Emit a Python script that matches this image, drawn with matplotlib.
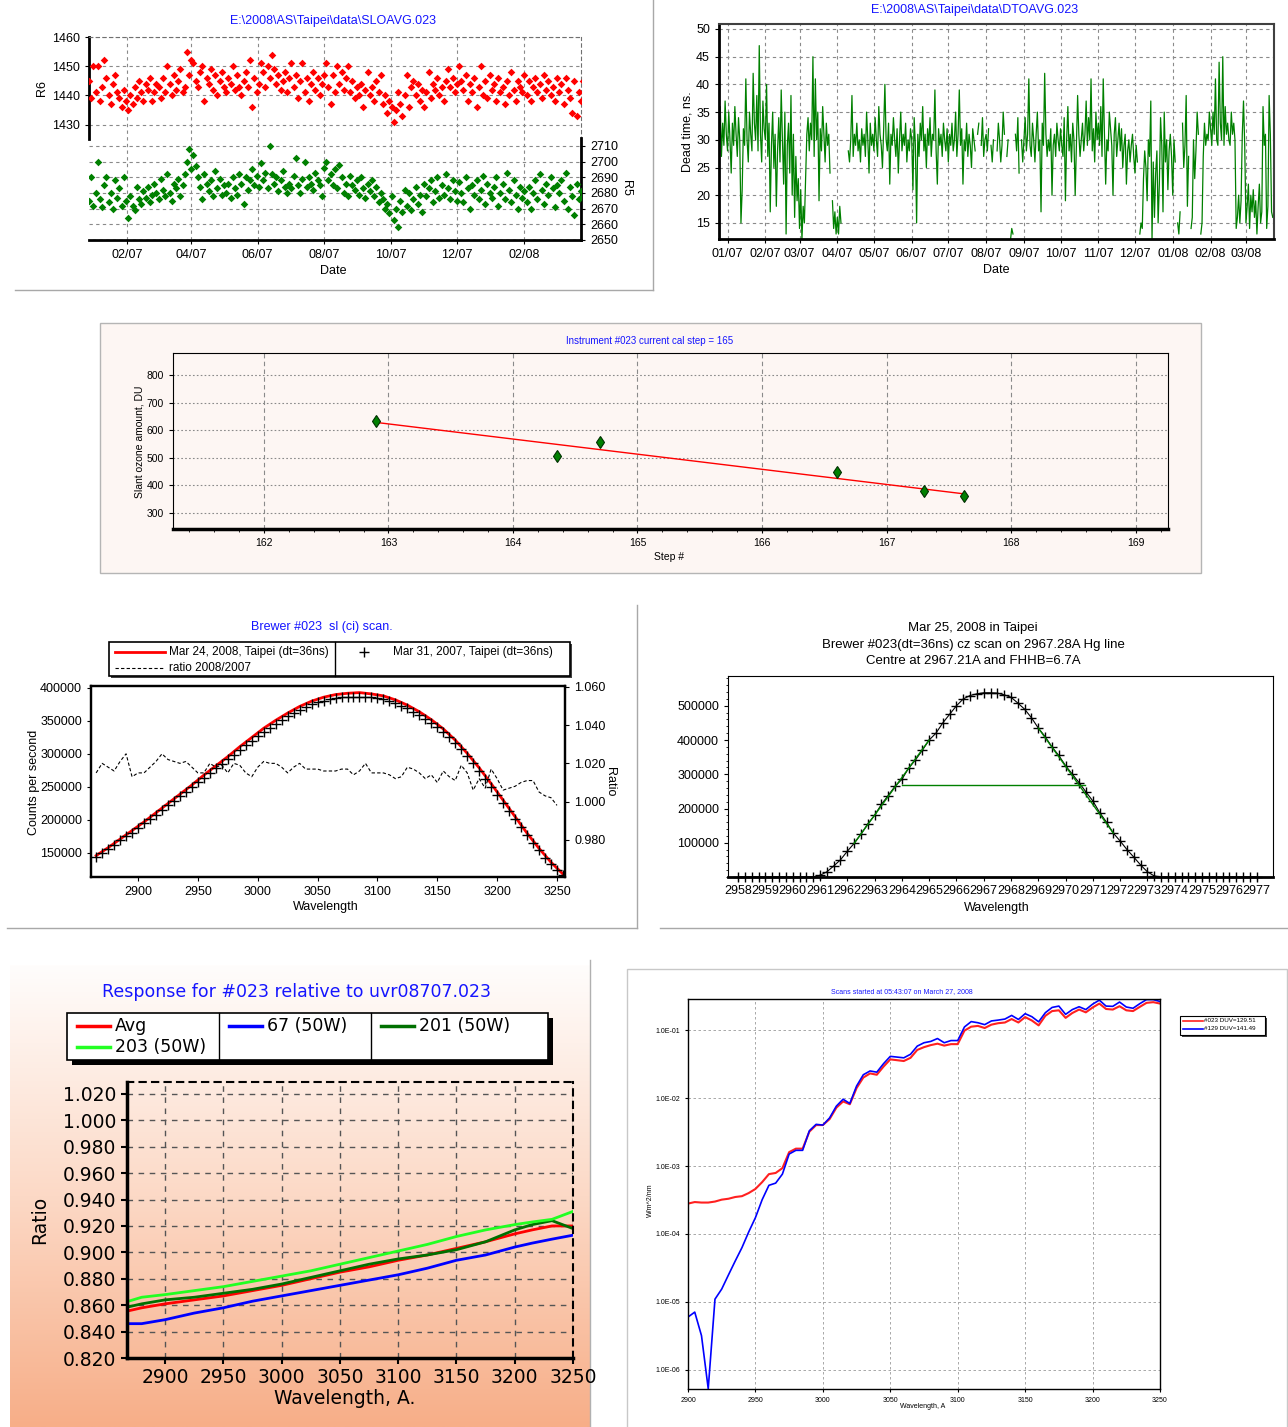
import datetime as dt
import numpy as np
import matplotlib
matplotlib.use("Agg")
import matplotlib.pyplot as plt
import matplotlib.dates as mdates
from matplotlib.colors import LinearSegmentedColormap
from matplotlib.patches import Rectangle
from matplotlib.ticker import AutoMinorLocator, FormatStrFormatter

plt.rcParams['font.family'] = ['Liberation Sans', 'DejaVu Sans']

# ---------------- data ----------------
# SL ratios R6 / R5, one reading every second day
sl_start = dt.date(2006, 12, 28)
r6 = [1445, 1439, 1450,
      1441, 1450, 1438, 1443, 1452, 1446, 1440, 1437, 1444, 1447, 1441, 1439, 1436, 1442, 1438,
      1435, 1440, 1437, 1443, 1439, 1445, 1441, 1438, 1444, 1442, 1446, 1438, 1441, 1444,
      1443, 1439, 1446, 1441, 1450, 1444, 1440, 1447, 1442, 1445, 1449, 1441, 1443, 1455, 1447, 1452,
      1451, 1445, 1443, 1448, 1450, 1438, 1446, 1444, 1449, 1442, 1447, 1440, 1445, 1448, 1443,
      1441, 1446, 1444, 1450, 1442, 1447, 1443, 1440, 1445, 1448, 1443, 1452, 1436, 1446, 1441, 1444,
      1451, 1448, 1443, 1450, 1446, 1454, 1449, 1444, 1447, 1442, 1445, 1448, 1441, 1446, 1451,
      1443, 1447, 1439, 1445, 1451, 1441, 1446, 1438, 1444, 1448, 1442, 1446, 1440, 1444, 1447,
      1451, 1443, 1437, 1447, 1441, 1450, 1444, 1448, 1442, 1446, 1450, 1441, 1445, 1439, 1443, 1440,
      1444, 1436, 1442, 1448, 1440, 1443, 1438, 1445, 1441, 1447, 1437, 1440, 1434, 1438, 1436,
      1431, 1435, 1441, 1437, 1433, 1440, 1447, 1436, 1443, 1445, 1440, 1444, 1438, 1442, 1436,
      1441, 1448, 1439, 1444, 1442, 1446, 1440, 1443, 1438, 1445, 1449, 1443, 1446, 1441, 1444,
      1450, 1445, 1442, 1447, 1438, 1444, 1441, 1446, 1436, 1443, 1450, 1440, 1445, 1439, 1447, 1442,
      1444, 1438, 1446, 1441, 1443, 1437, 1445, 1440, 1448, 1442, 1438, 1445, 1443, 1441, 1447,
      1440, 1445, 1438, 1443, 1446, 1441, 1444, 1439, 1447, 1442, 1445, 1440, 1443, 1438, 1446,
      1441, 1444, 1437, 1446, 1442, 1439, 1434, 1445, 1433, 1441, 1438, 1445]
r5 = [2675, 2690, 2672,
      2680, 2700, 2676, 2671, 2685, 2690, 2674, 2680, 2670, 2688, 2677, 2683, 2672, 2690, 2675,
      2664, 2678, 2672, 2669, 2684, 2676, 2673, 2681, 2677, 2684, 2674, 2679, 2686, 2680,
      2676, 2689, 2682, 2678, 2692, 2680, 2675, 2686, 2683, 2689, 2678, 2685, 2692, 2700, 2708, 2695,
      2704, 2697, 2690, 2684, 2676, 2692, 2686, 2681, 2688, 2678, 2694, 2683, 2689, 2679, 2685,
      2680, 2686, 2677, 2690, 2683, 2679, 2692, 2686, 2673, 2690, 2682, 2688, 2695, 2685, 2691, 2684,
      2699, 2688, 2693, 2683, 2710, 2692, 2686, 2690, 2681, 2688, 2694, 2684, 2680, 2686, 2683,
      2691, 2702, 2685, 2680, 2689, 2700, 2684, 2690, 2686, 2682, 2693, 2688, 2685, 2678, 2696,
      2700, 2688, 2692, 2685, 2695, 2683, 2698, 2690, 2680, 2686, 2678, 2691, 2685, 2682, 2688, 2679,
      2690, 2683, 2677, 2686, 2681, 2688, 2678, 2684, 2674, 2680, 2676, 2670, 2673, 2667, 2678,
      2663, 2670, 2658, 2675, 2668, 2682, 2672, 2680, 2669, 2676, 2684, 2673, 2679, 2668, 2686,
      2678, 2683, 2688, 2674, 2681, 2690, 2677, 2685, 2679, 2692, 2683, 2676, 2688, 2681, 2675,
      2687, 2680, 2674, 2690, 2683, 2670, 2685, 2679, 2688, 2676, 2682, 2691, 2673, 2686, 2680, 2677,
      2684, 2690, 2672, 2680, 2686, 2676, 2693, 2682, 2674, 2688, 2679, 2670, 2684, 2677, 2681,
      2674, 2684, 2670, 2680, 2688, 2676, 2692, 2682, 2673, 2686, 2679, 2690, 2683, 2671, 2685,
      2680, 2688, 2675, 2693, 2670, 2684, 2678, 2666, 2686, 2676, 2681, 2678]

# daily dead time (ns), None = no data
dt_start = dt.date(2006, 12, 25)
N = None
dead_time = [30, 36, 27, 33, 29, 37, 31,
             28, 35, 30, 24, 33, 29, 36, 31, 27, 34, 30, 15, 21, 32, 29, 41, 30, 26, 35, 31, 28, 42, 33, 30, 38, 28, 47, 31, 26, 37, 32,
             30, 40, 27, 33, 17, 29, 35, 25, 31, 18, 28, 34, 26, 39, 30, 22, 35, 13, 29, 33, 24, 38, 20, 31, 16, 27, 19, 23,
             14, 21, 12, 18, 15, 23, 31, 34, 28, 33, 30, 45, 27, 41, 30, 35, 19, 32, 28, 36, 31, 26, 33, 29, 31, 24, N, 19, 14, 17, 13,
             16, 13, 18, 15, N, N, N, 24, N, 28, 26, 30, 38, 27, 31, 29, 33, 28, 30, 26, 32, 29, 31, 27, 35, 30, 24, 33, 29, 31,
             28, 34, 30, 27, 36, 31, 29, 25, 32, 40, 30, 28, 33, 22, 31, 29, 34, 30, 27, 32, 24, 30, 35, 28, 31, 29, 33, 26, 30, 28, 32,
             30, 21, 34, 29, 15, 31, 27, 33, 30, 36, 28, 31, 25, 32, 29, 34, 27, 31, 30, 39, 28, 22, 32, 29, 31, 27, 33, 30, 28, 32,
             26, 31, 29, 33, 28, 30, 35, 27, 31, 39, 29, 32, 22, 30, 28, 33, 27, 31, 29, 25, 32, 30, 28, N, 31, 33, N, 29, 34, 27, 30,
             31, 28, 32, N, 29, 26, 30, N, N, 28, 33, 30, 26, 29, 35, 31, N, 27, 30, N, 12, 14, 13, N, 31, 28, 34, 24, N, 30, 26,
             30, 34, 28, 31, 41, 29, 27, 33, 30, 26, 31, 35, 28, 30, 17, 33, 29, 42, 31, 27, 30, 28, 32, 20, 29, 31, 27, 33, 30, 28,
             32, 29, 27, 34, 19, 30, 36, 28, 31, 26, 33, 30, 20, 29, 38, 31, 27, 30, 33, 28, 31, 37, 29, 34, 30, 41, 28, 32, 26, 35, 30,
             33, 29, 36, 27, 41, 31, 22, 30, 28, 35, 32, 29, 20, 31, 34, 27, 30, 33, 28, 32, 25, 29, 31, 22, 28, 30, 26, 29, 31, 27,
             24, 29, 26, N, 13, 15, 14, 23, 28, 25, 19, 30, 27, 37, 12, 26, 16, 24, 28, 15, 22, 34, 29, 17, 35, 26, 30, 21, 28, 31, 27,
             20, 30, 26, N, 15, 13, 17, N, 33, 25, 29, 38, 18, 27, N, 14, 16, 30, 23, 28, 35, 31, N, 13, 15, 27, 33, 29, 31, 30, 35,
             32, 29, 35, 31, 41, 30, 29, 44, 33, 30, 45, 29, 36, 31, 33, 30, 29, 35, 31, 33, 30, 14, 16, 20, 15, 19, 31, 37, 29,
             15, 18, 22, 14, 20, 17, 21, 16, 19, 13, 18, 22, 15, 17, 36, 29, 31, 14, 18, 38, 31, 17, 16]

# calibration step test
cal_step = [162.9, 164.35, 164.7, 166.6, 167.3, 167.62]
cal_ozone = [635, 508, 558, 447, 381, 360]

# SL (ci) scan
sl_wl_2007 = np.arange(2865, 3256, 5)
sl_2007 = [144000, 150000, 156000, 162000, 169000, 175000, 181000, 188000, 195000, 201000,
           208000, 215000, 222000, 229000, 236000, 243000, 250000, 257000, 264000, 271000,
           278000, 285000, 292000, 299000, 306000, 313000, 320000, 327000, 334000, 340000,
           346000, 352000, 357000, 362000, 367000, 371000, 375000, 378000, 381000, 383000,
           385000, 386000, 387000, 387000, 387000, 387000, 386000, 385000, 383000, 380000,
           377000, 373000, 369000, 364000, 359000, 353000, 347000, 341000, 333000, 325000,
           316000, 307000, 297000, 287000, 274000, 262000, 250000, 238000, 226000, 213000,
           201000, 189000, 177000, 165000, 154000, 143000, 133000, 124000, 117000]
sl_wl_2008 = np.arange(2865, 3256, 10)
sl_2008 = [146000, 158000, 171000, 184000, 197000, 211000, 225000, 239000, 253000, 268000,
           282000, 296000, 311000, 325000, 339000, 351000, 362000, 372000, 380000, 386000,
           390000, 392000, 393000, 391000, 388000, 382000, 374000, 364000, 352000, 338000,
           321000, 301000, 279000, 255000, 230000, 205000, 180000, 157000, 136000, 118000]
ratio_wl = np.arange(2865, 3251, 5)
ratio = [1.015, 1.020, 1.018, 1.016, 1.021, 1.025, 1.013, 1.015, 1.015, 1.018,
         1.021, 1.025, 1.022, 1.021, 1.020, 1.021, 1.018, 1.015, 1.015, 1.020,
         1.018, 1.019, 1.015, 1.020, 1.019, 1.015, 1.013, 1.018, 1.021, 1.020,
         1.020, 1.018, 1.015, 1.018, 1.020, 1.017, 1.017, 1.017, 1.016, 1.016,
         1.016, 1.017, 1.017, 1.014, 1.016, 1.020, 1.015, 1.015, 1.015, 1.014,
         1.012, 1.013, 1.018, 1.017, 1.015, 1.012, 1.014, 1.010, 1.016, 1.013,
         1.011, 1.019, 1.015, 1.006, 1.012, 1.007, 1.017, 1.012, 1.006, 1.007,
         1.008, 1.010, 1.011, 1.011, 1.005, 1.003, 1.002, 0.998]

# CZ scan on Hg line
cz_wl = np.arange(2958, 2977.01, 0.25)
cz_counts = [0, 0, 0, 0, 0, 0, 0, 0, 0, 0, 0, 0,
             5000, 15000, 32000, 50000, 75000, 98000, 125000, 155000,
             180000, 212000, 238000, 265000, 285000, 318000, 342000, 370000,
             400000, 420000, 450000, 475000, 500000, 520000, 530000, 535000,
             538000, 538000, 537000, 532000, 525000, 508000, 490000, 465000,
             435000, 410000, 380000, 355000, 325000, 300000, 275000, 248000,
             222000, 188000, 160000, 128000, 105000, 80000, 58000, 35000,
             15000, 3000,
             0, 0, 0, 0, 0, 0, 0, 0, 0, 0, 0, 0, 0, 0, 0]
cz_fit_left_wl = [2962.25, 2965.0]
cz_fit_left = [98000, 400000]
cz_fit_right_wl = [2969.0, 2971.75]
cz_fit_right = [435000, 128000]
cz_half_wl = [2964.0, 2970.7]
cz_half = [268000, 268000]

# lamp response ratios
resp_wl = [2865, 2880, 2900, 2925, 2950, 2975, 3000, 3025, 3050, 3075, 3100, 3125, 3150, 3175, 3200, 3215, 3232, 3250]
resp_avg = [0.855, 0.858, 0.861, 0.864, 0.867, 0.871, 0.875, 0.880, 0.885, 0.889, 0.894, 0.898, 0.903, 0.908, 0.914, 0.917, 0.920, 0.920]
resp_203 = [0.862, 0.866, 0.868, 0.871, 0.874, 0.878, 0.882, 0.886, 0.891, 0.896, 0.901, 0.906, 0.912, 0.917, 0.921, 0.923, 0.925, 0.931]
resp_67 = [0.846, 0.846, 0.849, 0.854, 0.858, 0.863, 0.867, 0.871, 0.875, 0.879, 0.883, 0.888, 0.894, 0.898, 0.904, 0.907, 0.910, 0.913]
resp_201 = [0.858, 0.861, 0.864, 0.866, 0.869, 0.872, 0.876, 0.881, 0.886, 0.891, 0.895, 0.898, 0.902, 0.908, 0.917, 0.921, 0.924, 0.918]

# UV spectra
uv_wl = np.arange(2900, 3251, 5)
uv_023 = [2.8e-4, 2.95e-4, 2.9e-4, 2.9e-4, 3.0e-4, 3.2e-4, 3.3e-4, 3.5e-4, 3.6e-4, 4.0e-4,
          4.6e-4, 5.8e-4, 7.6e-4, 7.9e-4, 9.3e-4, 1.6e-3, 1.8e-3, 1.8e-3, 3.2e-3, 4.0e-3,
          4.0e-3, 4.9e-3, 7.2e-3, 8.9e-3, 8.1e-3, 1.4e-2, 2.0e-2, 2.3e-2, 2.2e-2, 2.9e-2,
          3.7e-2, 3.6e-2, 3.5e-2, 3.9e-2, 5.1e-2, 5.6e-2, 6.0e-2, 6.3e-2, 5.9e-2, 6.2e-2,
          6.2e-2, 9.8e-2, 0.112, 0.115, 0.107, 0.120, 0.126, 0.129, 0.145, 0.129,
          0.155, 0.138, 0.117, 0.162, 0.19, 0.195, 0.151, 0.178, 0.20, 0.182,
          0.214, 0.245, 0.204, 0.20, 0.224, 0.195, 0.19, 0.219, 0.251, 0.257,
          0.245]
uv_129 = [6.0e-6, 7.1e-6, 3.2e-6, 5.3e-7, 1.1e-5, 1.55e-5, 2.5e-5, 4.0e-5, 6.3e-5, 1.07e-4,
          1.74e-4, 3.2e-4, 5.2e-4, 5.6e-4, 7.6e-4, 1.5e-3, 1.7e-3, 1.7e-3, 3.3e-3, 4.1e-3,
          4.0e-3, 5.1e-3, 7.6e-3, 9.6e-3, 8.3e-3, 1.5e-2, 2.2e-2, 2.5e-2, 2.4e-2, 3.2e-2,
          4.1e-2, 4.0e-2, 3.9e-2, 4.4e-2, 5.8e-2, 6.5e-2, 6.8e-2, 7.5e-2, 6.5e-2, 7.0e-2,
          7.0e-2, 0.111, 0.133, 0.128, 0.12, 0.136, 0.14, 0.145, 0.164, 0.143,
          0.174, 0.157, 0.132, 0.18, 0.215, 0.225, 0.17, 0.20, 0.22, 0.20,
          0.24, 0.275, 0.225, 0.223, 0.258, 0.218, 0.209, 0.244, 0.28, 0.28,
          0.263]

# ---------------- figure ----------------
W, H = 1288, 1427
fig = plt.figure(figsize=(W / 100, H / 100), dpi=100)


def px(l, t, r, b):
    return [l / W, 1 - b / H, (r - l) / W, (b - t) / H]


def pixel_axes(z):
    a = fig.add_axes([0, 0, 1, 1], zorder=z)
    a.set_xlim(0, W)
    a.set_ylim(H, 0)
    a.axis('off')
    return a


bg = pixel_axes(-5)
ov = pixel_axes(10)
BLUE = '#1515ff'
GRID = dict(color='#8a8a8a', lw=0.8, ls=(0, (3, 3)))

# panel frames / backgrounds
bg.plot([653, 653], [0, 290], color='#a8a8a8', lw=1)
bg.plot([15, 653], [290, 290], color='#a8a8a8', lw=1)
bg.add_patch(Rectangle((100, 323), 1101, 250, facecolor='#fdf6f3', edgecolor='#b5b5b5', lw=1))
bg.plot([637, 637], [605, 928], color='#a8a8a8', lw=1)
bg.plot([7, 637], [928, 928], color='#a8a8a8', lw=1)
bg.plot([660, 1288], [928, 928], color='#a8a8a8', lw=1)
cmap = LinearSegmentedColormap.from_list('peach', ['#fffdfc', '#fcd9c6', '#f7ae88'])
bg.imshow(np.linspace(0, 1, 256).reshape(-1, 1), cmap=cmap, aspect='auto',
          extent=(10, 590, 1427, 965), origin='upper')
bg.plot([590, 590], [960, 1427], color='#b0b0b0', lw=1)
bg.add_patch(Rectangle((627, 969), 660, 460, facecolor='white', edgecolor='#c8c8c8', lw=1))
bg.set_xlim(0, W)
bg.set_ylim(H, 0)

# ---- panel 1: R6 / R5 ----
ax1 = fig.add_axes(px(89, 37, 581, 240))
d1 = [sl_start + dt.timedelta(days=2 * i) for i in range(len(r6))]
ax1.scatter(d1, r6, marker='D', s=15, c='#ff0000', linewidths=0, zorder=3)
ax1.set_ylim(1390.4, 1460)
ax1.set_yticks([1430, 1440, 1450, 1460])
ax1.set_xlim(dt.date(2006, 12, 28), dt.date(2008, 3, 24))
ax1.xaxis.set_major_locator(mdates.MonthLocator(bymonth=[2, 4, 6, 8, 10, 12]))
ax1.xaxis.set_major_formatter(mdates.DateFormatter('%m/%y'))
ax1.grid(True, **GRID)
ax1.spines['left'].set_bounds(1425, 1460)
ax1.spines['left'].set_linewidth(2)
ax1.spines['bottom'].set_linewidth(2)
for s in ('top', 'right'):
    ax1.spines[s].set_linestyle((0, (3, 3)))
    ax1.spines[s].set_color('#707070')
ax1b = ax1.twinx()
ax1b.scatter(d1, r5, marker='D', s=15, c='#008000', linewidths=0, zorder=3)
ax1b.set_ylim(2650, 2779.5)
ax1b.set_yticks(range(2650, 2711, 10))
ax1b.grid(axis='y', **GRID)
for s in ('top', 'left', 'bottom'):
    ax1b.spines[s].set_visible(False)
ax1b.spines['right'].set_bounds(2650, 2715)
ax1b.spines['right'].set_linewidth(2)
for a in (ax1, ax1b):
    a.tick_params(labelsize=9, length=3)
ov.text(333, 21, r'E:\2008\AS\Taipei\data\SLOAVG.023', color=BLUE, fontsize=9, ha='center', va='center')
ov.text(42, 88, 'R6', fontsize=9, rotation=90, ha='center', va='center')
ov.text(626, 188, 'R5', fontsize=9, rotation=270, ha='center', va='center')
ov.text(333, 271, 'Date', fontsize=9, ha='center', va='center')

# ---- panel 2: dead time ----
ax2 = fig.add_axes(px(719, 24, 1274, 239))
d2 = [dt_start + dt.timedelta(days=i) for i in range(len(dead_time))]
ax2.plot(d2, np.array(dead_time, dtype=float), color='#008000', lw=0.9)
ax2.set_xlim(dt.date(2006, 12, 25), dt.date(2008, 3, 24))
ax2.set_ylim(12.1, 50.9)
ax2.set_yticks(range(15, 51, 5))
ax2.xaxis.set_major_locator(mdates.MonthLocator())
ax2.xaxis.set_major_formatter(mdates.DateFormatter('%m/%y'))
ax2.grid(True, **GRID)
ax2.spines['left'].set_linewidth(2)
ax2.spines['bottom'].set_linewidth(2)
for s in ('top', 'right'):
    ax2.spines[s].set_linewidth(1.5)
    ax2.spines[s].set_color('#404040')
ax2.tick_params(labelsize=9, length=3)
ov.text(975, 10, r'E:\2008\AS\Taipei\data\DTOAVG.023', color=BLUE, fontsize=9, ha='center', va='center')
ov.text(688, 132, 'Dead time, ns.', fontsize=9, rotation=90, ha='center', va='center')
ov.text(996, 270, 'Date', fontsize=9, ha='center', va='center')

# ---- panel 3: cal step ----
ax3 = fig.add_axes(px(173, 353, 1168, 529), facecolor='#fdf6f3')
fit = np.polyfit(cal_step, cal_ozone, 1)
fx = np.array([min(cal_step), max(cal_step)])
ax3.plot(fx, np.polyval(fit, fx), color='#ff0000', lw=1)
ax3.plot(cal_step, cal_ozone, ls='none', marker='d', ms=6.5, mfc='#008000', mec='#003000', mew=0.8)
ax3.set_xlim(161.27, 169.26)
ax3.set_ylim(242, 880)
ax3.set_xticks(range(162, 170))
ax3.set_yticks(range(300, 801, 100))
ax3.xaxis.set_minor_locator(AutoMinorLocator(5))
ax3.grid(axis='x', color='#8a8a8a', lw=0.8, ls=(0, (4, 3)))
ax3.grid(axis='y', color='#8a8a8a', lw=0.8, ls=(0, (1.5, 2)))
ax3.spines['bottom'].set_linewidth(2.5)
ax3.tick_params(labelsize=7.5, length=3)
ax3.tick_params(which='minor', length=2)
ov.text(650, 341, 'Instrument #023 current cal step = 165', color=BLUE, fontsize=7, ha='center', va='center')
ov.text(140, 442, 'Slant ozone amount, DU', fontsize=7.5, rotation=90, ha='center', va='center')
ov.text(669, 557, 'Step #', fontsize=7.5, ha='center', va='center')

# ---- panel 4: SL scan ----
ax4 = fig.add_axes(px(91, 686, 565, 877))
ax4.plot(sl_wl_2008, sl_2008, color='#ff0000', lw=2)
ax4.plot(sl_wl_2007, sl_2007, ls='none', marker='+', ms=7, mew=1, color='black')
ax4.set_xlim(2860.7, 3256.7)
ax4.set_ylim(113600, 403000)
ax4.set_xticks(range(2900, 3251, 50))
ax4.set_yticks(range(150000, 400001, 50000))
ax4b = ax4.twinx()
ax4b.plot(ratio_wl, ratio, color='black', lw=0.8, ls=(0, (3, 2)))
ax4b.set_ylim(0.9605, 1.0605)
ax4b.set_yticks([0.98, 1.0, 1.02, 1.04, 1.06])
ax4b.yaxis.set_major_formatter(FormatStrFormatter('%.3f'))
for a in (ax4, ax4b):
    a.tick_params(labelsize=9, length=3)
    for s in a.spines.values():
        s.set_linewidth(1.6)
ov.text(322, 627, 'Brewer #023  sl (ci) scan.', color=BLUE, fontsize=9, ha='center', va='center')
ov.text(34, 782, 'Counts per second', fontsize=9, rotation=90, ha='center', va='center')
ov.text(610, 782, 'Ratio', fontsize=9, rotation=270, ha='center', va='center')
ov.text(326, 907, 'Wavelength', fontsize=9, ha='center', va='center')
ov.add_patch(Rectangle((111, 644), 461, 34, facecolor='#404040', edgecolor='none'))
ov.add_patch(Rectangle((109, 642), 461, 34, facecolor='white', edgecolor='black', lw=1.2))
ov.plot([335, 335], [642, 676], color='black', lw=1)
ov.plot([115, 165], [652, 652], color='#ff0000', lw=2)
ov.plot([115, 165], [668, 668], color='black', lw=0.8, ls=(0, (3, 2)))
ov.plot([364], [652], marker='+', ms=7, mew=1, color='black')
ov.text(169, 652, 'Mar 24, 2008, Taipei (dt=36ns)', fontsize=8.5, va='center')
ov.text(169, 668, 'ratio 2008/2007', fontsize=8.5, va='center')
ov.text(393, 652, 'Mar 31, 2007, Taipei (dt=36ns)', fontsize=8.5, va='center')

# ---- panel 5: CZ scan ----
ax5 = fig.add_axes(px(728, 676, 1273, 877))
ax5.plot(cz_wl, cz_counts, color='black', lw=0.8, marker='+', ms=7, mew=1, clip_on=False, zorder=3)
ax5.plot(cz_fit_left_wl, cz_fit_left, color='#008000', lw=1, zorder=4)
ax5.plot(cz_fit_right_wl, cz_fit_right, color='#008000', lw=1, zorder=4)
ax5.plot(cz_half_wl, cz_half, color='#008000', lw=1, zorder=4)
ax5.set_xlim(2957.63, 2977.6)
ax5.set_ylim(0, 587000)
ax5.set_xticks(range(2958, 2978))
ax5.set_yticks(range(100000, 500001, 100000))
ax5.yaxis.set_minor_locator(AutoMinorLocator(5))
ax5.spines['bottom'].set_linewidth(2)
ax5.tick_params(labelsize=9, length=3)
ax5.tick_params(axis='x', labelsize=9, pad=3)
ax5.tick_params(which='minor', length=1.5)
ov.text(973, 628, 'Mar 25, 2008 in Taipei', fontsize=9.5, ha='center', va='center')
ov.text(973, 645, 'Brewer #023(dt=36ns) cz scan on 2967.28A Hg line', fontsize=9.5, ha='center', va='center')
ov.text(973, 661, 'Centre at 2967.21A and FHHB=6.7A', fontsize=9.5, ha='center', va='center')
ov.text(997, 908, 'Wavelength', fontsize=9, ha='center', va='center')

# ---- panel 6: lamp response ----
ax6 = fig.add_axes(px(127, 1082, 573, 1358))
ax6.set_facecolor('none')
ax6.plot(resp_wl, resp_67, color='#0000ff', lw=2)
ax6.plot(resp_wl, resp_avg, color='#ff0000', lw=2)
ax6.plot(resp_wl, resp_201, color='#007000', lw=2)
ax6.plot(resp_wl, resp_203, color='#22ff22', lw=2)
ax6.set_xlim(2867.4, 3250)
ax6.set_ylim(0.820, 1.029)
ax6.set_xticks(range(2900, 3251, 50))
ax6.set_yticks(np.arange(0.82, 1.021, 0.02))
ax6.yaxis.set_major_formatter(FormatStrFormatter('%.3f'))
ax6.grid(True, color='#555555', lw=1, ls=(0, (4, 4)))
ax6.spines['left'].set_linewidth(2.5)
ax6.spines['bottom'].set_linewidth(2.5)
for s in ('top', 'right'):
    ax6.spines[s].set_linestyle((0, (3, 3)))
    ax6.spines[s].set_linewidth(1.5)
ax6.tick_params(labelsize=13.5, length=4, width=1.5)
for lab in ax6.get_xticklabels() + ax6.get_yticklabels():
    lab.set_family('DejaVu Sans')
ov.text(297, 992, 'Response for #023 relative to uvr08707.023', color=BLUE, fontsize=12.5,
        family='DejaVu Sans', ha='center', va='center')
ov.text(40, 1220, 'Ratio', fontsize=13.5, family='DejaVu Sans', rotation=90, ha='center', va='center')
ov.text(345, 1399, 'Wavelength, A.', fontsize=13.5, family='DejaVu Sans', ha='center', va='center')
ov.add_patch(Rectangle((72, 1018), 481, 47, facecolor='black', edgecolor='none'))
ov.add_patch(Rectangle((67, 1013), 481, 47, facecolor='white', edgecolor='black', lw=1.2))
ov.plot([219, 219], [1013, 1060], color='black', lw=1)
ov.plot([371, 371], [1013, 1060], color='black', lw=1)
for x0, y0, col, lab in ((77, 1026, '#ff0000', 'Avg'), (77, 1047, '#22ff22', '203 (50W)'),
                         (229, 1026, '#0000ff', '67 (50W)'), (381, 1026, '#007000', '201 (50W)')):
    ov.plot([x0, x0 + 33], [y0, y0], color=col, lw=2.5)
    ov.text(x0 + 38, y0, lab, fontsize=12.5, family='DejaVu Sans', va='center')

# ---- panel 7: UV spectra ----
ax7 = fig.add_axes(px(688, 999, 1160, 1389))
ax7.semilogy(uv_wl, uv_023, color='#ff2020', lw=1.5)
ax7.semilogy(uv_wl, uv_129, color='#0000ff', lw=1.2)
ax7.set_xlim(2900, 3250)
ax7.set_ylim(5.25e-7, 0.286)
ax7.set_xticks(range(2900, 3251, 50))
ax7.set_yticks([1e-6, 1e-5, 1e-4, 1e-3, 1e-2, 1e-1])
ax7.set_yticklabels(['1.0E-06', '1.0E-05', '1.0E-04', '1.0E-03', '1.0E-02', '1.0E-01'])
ax7.yaxis.set_minor_locator(matplotlib.ticker.NullLocator())
ax7.grid(True, color='#9a9a9a', lw=0.6, ls=(0, (3, 3)))
for s in ax7.spines.values():
    s.set_linewidth(1)
ax7.tick_params(labelsize=5, length=2)
ov.text(902, 992, 'Scans started at 05:43:07 on March 27, 2008', color=BLUE, fontsize=5, ha='center', va='center')
ov.text(650, 1200, 'W/m^2/nm', fontsize=5, rotation=90, ha='center', va='center')
ov.text(923, 1406, 'Wavelength, A', fontsize=5, ha='center', va='center')
ov.add_patch(Rectangle((1182, 1018), 85, 19, facecolor='#404040', edgecolor='none'))
ov.add_patch(Rectangle((1180, 1016), 85, 19, facecolor='white', edgecolor='black', lw=0.8))
ov.plot([1183, 1203], [1021, 1021], color='#ff2020', lw=1.2)
ov.plot([1183, 1203], [1029, 1029], color='#0000ff', lw=1.2)
ov.text(1204, 1021, '#023 DUV=129.51', fontsize=4.5, va='center')
ov.text(1204, 1029, '#129 DUV=141.49', fontsize=4.5, va='center')

fig.savefig('out.png', dpi=100)
